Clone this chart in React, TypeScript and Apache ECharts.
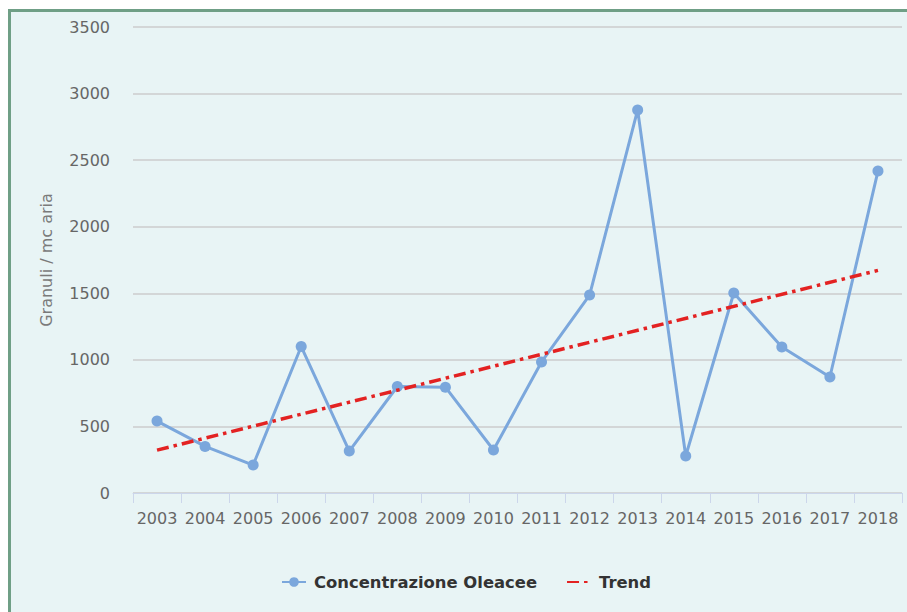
import React, { useEffect, useRef } from "react";
import * as echarts from "echarts";

const years = ["2003","2004","2005","2006","2007","2008","2009","2010","2011","2012","2013","2014","2015","2016","2017","2018"];
const concentrazione = [540, 350, 210, 1100, 315, 800, 795, 323, 984, 1487, 2877, 278, 1502, 1097, 871, 2418];
const trendPoints: [string, number][] = [["2003", 322], ["2018", 1672]];
const yTicks = { min: 0, max: 3500, interval: 500 };

const FONT = "DejaVu Sans";

export default function App() {
  const ref = useRef<HTMLDivElement>(null);
  useEffect(() => {
    if (!ref.current) return;
    const chart = echarts.init(ref.current, undefined, { renderer: "svg" });
    chart.setOption({
      animation: false,
      backgroundColor: "transparent",
      textStyle: { fontFamily: FONT },
      grid: { left: 122, right: 5, top: 15, bottom: 120 },
      legend: {
        top: 557,
        left: 265,
        itemWidth: 24,
        itemHeight: 12,
        itemGap: 29,
        textStyle: {
          fontFamily: FONT,
          fontSize: 16.4,
          fontWeight: "bold",
          color: "#333333",
          padding: [0, 0, 0, 3],
        },
        data: [
          { name: "Concentrazione Oleacee" },
          { name: "Trend", itemStyle: { color: "rgba(0,0,0,0)", borderWidth: 0 } },
        ],
      },
      xAxis: {
        type: "category",
        data: years,
        boundaryGap: true,
        axisLine: { lineStyle: { color: "#ccd6eb", width: 1 } },
        axisTick: { show: true, length: 10, lineStyle: { color: "#ccd6eb" } },
        axisLabel: { color: "#666666", fontSize: 16, fontFamily: FONT, margin: 17, interval: 0 },
      },
      yAxis: {
        type: "value",
        min: yTicks.min,
        max: yTicks.max,
        interval: yTicks.interval,
        name: "Granuli / mc aria",
        nameLocation: "middle",
        nameGap: 79,
        nameRotate: 90,
        nameTextStyle: { color: "#7a7a7a", fontSize: 16, fontFamily: FONT },
        axisLine: { show: false },
        axisTick: { show: false },
        axisLabel: {
          color: "#666666",
          fontSize: 16,
          fontFamily: FONT,
          margin: 23,
          formatter: (v: number) => String(v),
        },
        splitLine: { lineStyle: { color: "#cccccc", width: 1.5 } },
      },
      series: [
        {
          name: "Concentrazione Oleacee",
          type: "line",
          data: concentrazione,
          symbol: "circle",
          symbolSize: 11,
          showAllSymbol: true,
          itemStyle: { color: "#7ba7dc" },
          lineStyle: { color: "#7ba7dc", width: 3 },
          z: 2,
        },
        {
          name: "Trend",
          type: "line",
          data: trendPoints,
          showSymbol: false,
          symbol: "circle",
          itemStyle: { color: "#e32222" },
          lineStyle: { color: "#e32222", width: 3.5, type: [12, 5, 3.5, 5] },
          z: 3,
        },
      ],
    });
    return () => chart.dispose();
  }, []);
  return (
    <div
      style={{
        position: "fixed",
        left: 8,
        top: 9,
        width: 905,
        height: 610,
        borderTop: "3px solid #6f9f86",
        borderLeft: "3px solid #6f9f86",
        background: "#e8f4f5",
      }}
    >
      <div ref={ref} style={{ width: 896, height: 601 }} />
    </div>
  );
}
